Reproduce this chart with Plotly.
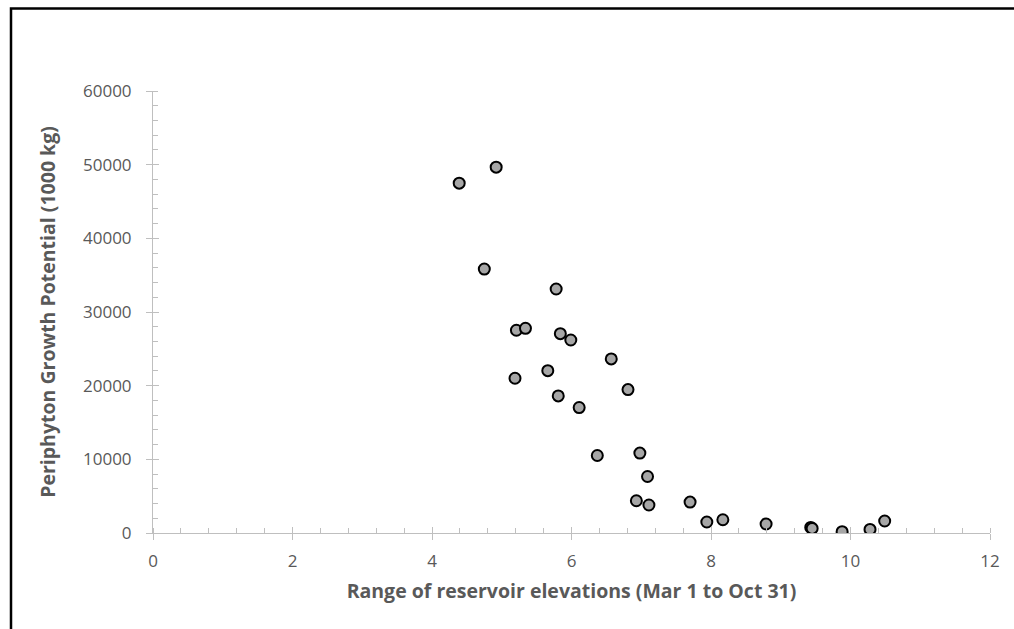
import plotly.graph_objects as go

# Range of reservoir elevations (Mar 1 to Oct 31)
x_range = [4.39, 4.92, 4.75, 5.78, 5.21, 5.34, 5.84, 5.99, 6.57, 5.66, 5.19, 6.81, 5.81, 6.11,
           6.37, 6.98, 7.09, 6.93, 7.11, 7.70, 7.94, 8.17, 8.79, 9.43, 9.45, 9.88, 10.28, 10.49]
# Periphyton Growth Potential (1000 kg)
y_growth = [47490, 49660, 35830, 33120, 27520, 27790, 27060, 26200, 23630, 22040, 21010, 19470, 18610, 17030,
            10520, 10850, 7670, 4380, 3800, 4200, 1490, 1800, 1220, 760, 620, 180, 490, 1630]

x_title = "Range of reservoir elevations (Mar 1 to Oct 31)"
y_title = "Periphyton Growth Potential (1000 kg)"

W, H = 1014, 629
ML, MR, MT, MB = 153, 24, 91, 96
pw, ph = W - ML - MR, H - MT - MB
FONT = "'Open Sans', Lato, sans-serif"
GREY_TXT = "#595959"
AX = "#BFBFBF"

fig = go.Figure()
fig.add_trace(go.Scatter(
    x=x_range, y=y_growth, mode="markers",
    marker=dict(size=11, color="#A6A6A6", line=dict(color="#000000", width=2)),
    showlegend=False, hoverinfo="x+y"))


def px2paper_x(p):
    return (p - ML) / pw


def px2paper_y(p):
    return (H - MB - p) / ph


fig.update_layout(
    width=W, height=H,
    margin=dict(l=ML, r=MR, t=MT, b=MB),
    paper_bgcolor="white", plot_bgcolor="white",
    font=dict(family=FONT, color=GREY_TXT, size=17),
    xaxis=dict(
        range=[0, 12], dtick=2, tick0=0, showgrid=False, zeroline=False,
        showline=True, linecolor=AX, linewidth=1,
        ticks="outside", ticklen=6, tickcolor=AX, tickwidth=1,
        minor=dict(dtick=0.4, ticks="inside", ticklen=5, tickcolor=AX, tickwidth=1, showgrid=False),
        tickfont=dict(size=17, color=GREY_TXT), ticklabelstandoff=7,
        title=dict(text="<b>" + x_title + "</b>", font=dict(size=19.5, color=GREY_TXT), standoff=12),
        fixedrange=True,
    ),
    yaxis=dict(
        range=[0, 60000], dtick=10000, tick0=0, tickformat="d", showgrid=False, zeroline=False,
        showline=True, linecolor=AX, linewidth=1,
        ticks="outside", ticklen=6, tickcolor=AX, tickwidth=1,
        minor=dict(dtick=2000, ticks="inside", ticklen=5, tickcolor=AX, tickwidth=1, showgrid=False),
        tickfont=dict(size=17, color=GREY_TXT), ticklabelstandoff=11,
        title=dict(text="<b>" + y_title + "</b>", font=dict(size=19.5, color=GREY_TXT), standoff=22),
        fixedrange=True,
    ),
    xaxis2=dict(overlaying="x", range=[0, 12], dtick=2, tick0=0, ticks="inside", ticklen=6,
                tickcolor=AX, showticklabels=False, showline=False, showgrid=False, zeroline=False,
                fixedrange=True),
    yaxis2=dict(overlaying="y", range=[0, 60000], dtick=10000, tick0=0, ticks="inside", ticklen=6,
                tickcolor=AX, showticklabels=False, showline=False, showgrid=False, zeroline=False,
                fixedrange=True),
)
# invisible trace to activate the overlay axes
fig.add_trace(go.Scatter(x=[None], y=[None], xaxis="x2", yaxis="y2", showlegend=False, hoverinfo="skip"))

# outer chart border (top and left edges visible)
fig.add_shape(type="path", xref="paper", yref="paper",
              path=f"M {px2paper_x(11)} {px2paper_y(H + 5)} L {px2paper_x(11)} {px2paper_y(8.5)} L {px2paper_x(W + 5)} {px2paper_y(8.5)}",
              line=dict(color="#000000", width=2.5), layer="above")

fig.write_html("out.html")
